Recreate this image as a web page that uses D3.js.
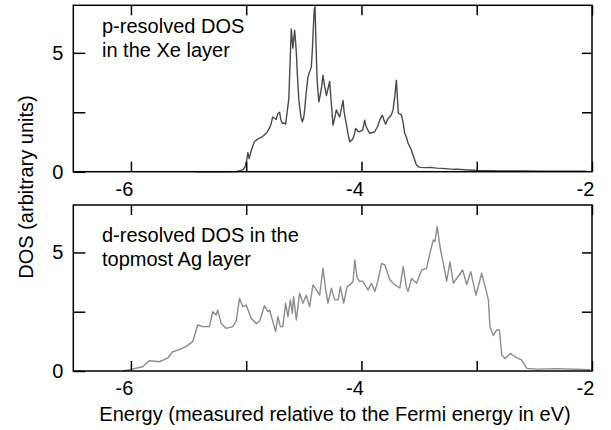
<!DOCTYPE html>
<html><head><meta charset="utf-8">
<script src="https://cdn.jsdelivr.net/npm/d3@7"></script>
<style>
body{margin:0;background:#fff;}
text{font-family:"Liberation Sans",Arial,Helvetica,sans-serif;fill:#000;}
</style></head>
<body><svg id="c" width="611" height="430"></svg>
<script>
// ---- data ----
const topEnergy = [-5.44,-5.2,-5.08,-5.03,-5.01,-4.995,-4.985,-4.975,-4.955,-4.93,-4.89,-4.86,-4.82,-4.80,-4.785,-4.77,-4.755,-4.74,-4.725,-4.71,-4.70,-4.687,-4.67,-4.658,-4.645,-4.63,-4.62,-4.609,-4.60,-4.595,-4.587,-4.58,-4.572,-4.565,-4.555,-4.543,-4.525,-4.513,-4.50,-4.493,-4.48,-4.464,-4.45,-4.435,-4.425,-4.418,-4.41,-4.403,-4.395,-4.386,-4.378,-4.369,-4.355,-4.345,-4.334,-4.32,-4.304,-4.29,-4.276,-4.262,-4.247,-4.23,-4.218,-4.20,-4.189,-4.16,-4.15,-4.131,-4.117,-4.102,-4.08,-4.073,-4.06,-4.05,-4.03,-4.021,-3.99,-3.972,-3.96,-3.929,-3.90,-3.885,-3.86,-3.842,-3.819,-3.80,-3.79,-3.775,-3.755,-3.74,-3.726,-3.71,-3.697,-3.687,-3.68,-3.654,-3.64,-3.625,-3.61,-3.596,-3.58,-3.567,-3.553,-3.538,-3.525,-3.509,-3.49,-3.45,-3.40,-3.35,-3.30,-3.25,-3.20,-3.15,-3.10,-3.05,-3.0,-2.9,-2.8,-2.6,-2.4,-2.2,-2.05];
const topDOS = [0,0,0.01,0.08,0.2,0.5,0.8,0.55,0.9,1.26,1.4,1.47,1.65,1.82,2.0,2.3,2.25,2.2,2.45,2.5,2.2,2.04,2.05,2.0,2.5,3.08,4.5,6.0,5.5,5.2,5.6,5.95,5.5,5.0,4.0,3.0,2.3,2.1,2.3,2.6,3.3,4.0,4.2,4.4,5.2,6.0,6.8,6.95,5.5,4.0,3.4,2.94,3.3,3.6,4.06,3.6,3.2,3.5,3.8,2.9,1.96,2.3,2.6,2.4,2.3,3.0,2.5,2.0,1.6,1.26,1.35,1.41,1.6,1.82,1.7,1.68,1.75,2.17,1.9,1.61,1.65,1.68,1.9,2.17,2.38,2.1,2.0,2.2,2.3,2.4,2.6,3.2,3.85,3.0,2.46,2.4,2.1,1.62,1.45,1.2,1.05,0.91,0.7,0.49,0.3,0.21,0.18,0.17,0.18,0.15,0.14,0.12,0.1,0.1,0.08,0.07,0.05,0.04,0.03,0.03,0.02,0.02,0.02];

const bottomEnergy = [-6.073,-6.0,-5.899,-5.841,-5.754,-5.682,-5.638,-5.58,-5.522,-5.464,-5.421,-5.377,-5.319,-5.29,-5.261,-5.247,-5.217,-5.174,-5.117,-5.087,-5.058,-5.03,-5.0,-4.957,-4.913,-4.884,-4.841,-4.812,
  -4.797,-4.769,-4.745,-4.725,-4.704,-4.682,-4.658,-4.638,-4.617,-4.600,-4.589,-4.565,-4.537,-4.508,-4.478,-4.450,-4.421,-4.391,-4.363,-4.334,-4.310,-4.290,-4.261,-4.232,-4.203,-4.183,-4.154,-4.125,-4.102,-4.073,-4.058,-4.038,-4.015,-3.991,-3.971,-3.943,-3.913,-3.884,-3.856,
  -3.826,-3.797,-3.754,-3.71,-3.667,-3.638,-3.609,-3.595,-3.565,-3.522,-3.478,-3.435,-3.406,-3.377,-3.363,-3.343,-3.319,-3.29,-3.261,-3.232,-3.203,-3.174,-3.122,-3.087,-3.052,-3.006,-2.957,-2.919,-2.899,-2.885,-2.856,-2.826,-2.803,-2.783,-2.754,-2.71,-2.667,-2.609,-2.565,-2.478,-2.304,-2.015];
const bottomDOS = [0,0.07,0.18,0.43,0.39,0.54,0.81,0.9,1.03,1.24,1.94,1.87,1.87,2.5,2.36,2.57,2.0,1.8,1.87,2.09,3.07,2.71,2.78,2.22,2.0,2.1,2.75,2.5,
  2.57,2.08,1.66,2.29,1.87,1.87,2.86,2.29,3.0,2.43,3.14,2.15,3.28,2.86,3.2,2.71,3.63,3.42,3.2,4.33,3.42,2.86,3.49,3.0,3.0,3.55,2.86,3.55,3.63,3.77,4.68,3.94,3.77,3.8,3.63,3.42,3.7,3.35,3.83,
  4.54,4.47,3.85,3.63,3.5,4.4,3.5,3.36,3.9,3.7,4.26,4.33,4.97,5.53,5.45,6.09,5.24,4.54,3.79,4.6,3.7,3.9,4.26,3.65,4.19,3.2,4.12,3.41,3.0,1.87,1.5,1.73,1.73,0.68,0.53,0.74,0.6,0.46,0.11,0.08,0.1,0.05];

const xTicks = [-6,-5,-4,-3,-2];
const xTickLabels = ["-6","-4","-2"];
const yTicks = [0,2.5,5];
const yTickLabels = ["0","5"];
const topLabel = ["p-resolved DOS","in the Xe layer"];
const bottomLabel = ["d-resolved DOS in the","topmost Ag layer"];

// ---- drawing ----
const svg = d3.select("#c");
const L = 73.3, R = 592;
const x = d3.scaleLinear().domain([-6.5,-2]).range([L,R]);

function panel(top, bottom, E, V, color, labels, labelY){
  const y = d3.scaleLinear().domain([0,7]).range([bottom, top]);
  const g = svg.append("g");
  const pts = E.map((e,i)=>[e,V[i]]);
  g.append("path").datum(pts)
    .attr("fill","none").attr("stroke",color).attr("stroke-width",1.4)
    .attr("stroke-linejoin","round")
    .attr("d", d3.line().x(d=>x(d[0])).y(d=>y(d[1])));
  g.append("rect").attr("x",L).attr("y",top).attr("width",R-L).attr("height",bottom-top)
    .attr("fill","none").attr("stroke","#000").attr("stroke-width",1.5);
  const xb = g.append("g").attr("transform",`translate(0,${bottom})`)
    .call(d3.axisBottom(x).tickValues(xTicks).tickSizeInner(-10).tickSizeOuter(0).tickFormat(d=>xTickLabels.includes(String(d))?String(d):""));
  xb.select(".domain").remove();
  xb.selectAll("line").attr("stroke-width",1.5);
  xb.selectAll("text").attr("font-size",20).attr("dy",null).attr("y",24).attr("dx",-7);
  const xt = g.append("g").attr("transform",`translate(0,${top})`)
    .call(d3.axisTop(x).tickValues(xTicks).tickSizeInner(-10).tickSizeOuter(0).tickFormat(""));
  xt.select(".domain").remove();
  xt.selectAll("line").attr("stroke-width",1.5);
  const yl = g.append("g").attr("transform",`translate(${L},0)`)
    .call(d3.axisLeft(y).tickValues(yTicks).tickSizeInner(-12).tickSizeOuter(0).tickFormat(d=>yTickLabels.includes(String(d))?String(d):""));
  yl.select(".domain").remove();
  yl.selectAll("line").attr("stroke-width",1.5);
  yl.selectAll("text").attr("font-size",20).attr("x",-10);
  const yr = g.append("g").attr("transform",`translate(${R},0)`)
    .call(d3.axisRight(y).tickValues(yTicks.filter(v=>v>0)).tickSizeInner(-10).tickSizeOuter(0).tickFormat(""));
  yr.select(".domain").remove();
  yr.selectAll("line").attr("stroke-width",1.5);
  g.selectAll(".tick text").attr("fill","#000");
  g.selectAll(".tick line").attr("stroke","#000");
  labels.forEach((t,i)=>{
    g.append("text").attr("x",102).attr("y",labelY + i*24).attr("font-size",20).text(t);
  });
}
panel(5.3, 171.7, topEnergy, topDOS, "#4a4a4a", topLabel, 32.5);
panel(205, 371, bottomEnergy, bottomDOS, "#8c8c8c", bottomLabel, 241.5);

svg.append("text").attr("x",335).attr("y",421).attr("text-anchor","middle").attr("font-size",20)
  .text("Energy (measured relative to the Fermi energy in eV)");
svg.append("text").attr("transform","translate(33,187) rotate(-90)").attr("text-anchor","middle").attr("font-size",20)
  .text("DOS (arbitrary units)");
</script></body></html>
